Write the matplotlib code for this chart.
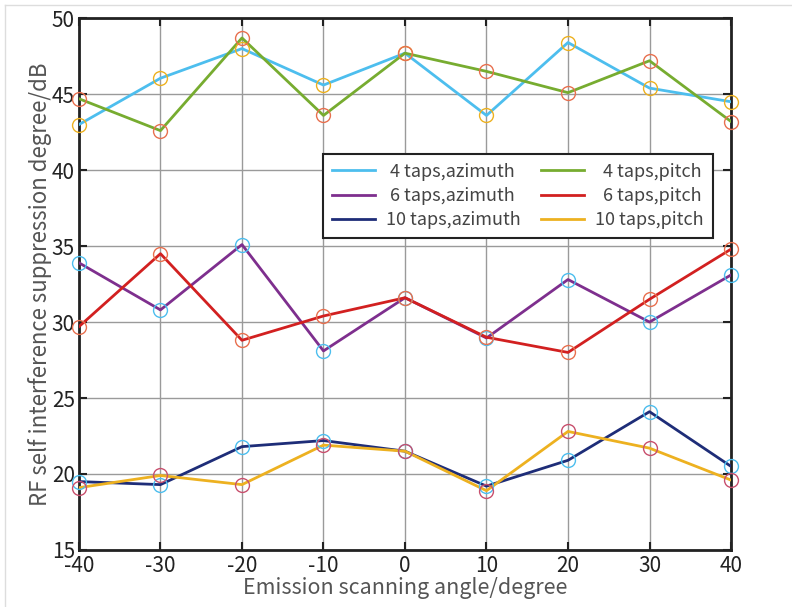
import matplotlib
matplotlib.use('Agg')
import matplotlib.pyplot as plt
from matplotlib.lines import Line2D

plt.rcParams['font.family'] = ['Noto Sans CJK SC', 'DejaVu Sans']
plt.rcParams['axes.unicode_minus'] = False

angles = [-40, -30, -20, -10, 0, 10, 20, 30, 40]

az4 = [43.0, 46.05, 48.0, 45.6, 47.7, 43.6, 48.4, 45.4, 44.5]
pitch4 = [44.7, 42.6, 48.7, 43.6, 47.7, 46.5, 45.1, 47.2, 43.2]
az6 = [33.9, 30.8, 35.1, 28.1, 31.6, 28.95, 32.8, 30.0, 33.1]
pitch6 = [29.7, 34.5, 28.8, 30.4, 31.6, 29.0, 28.0, 31.5, 34.8]
az10 = [19.5, 19.3, 21.8, 22.2, 21.5, 19.2, 20.9, 24.1, 20.5]
pitch10 = [19.1, 19.9, 19.3, 21.9, 21.5, 18.9, 22.8, 21.7, 19.6]

series = [
    (' 4 taps,azimuth', az4, '#4DBEEE', '#EDB120'),
    (' 6 taps,azimuth', az6, '#7E2F8E', '#4DBEEE'),
    ('10 taps,azimuth', az10, '#1E2D78', '#4DBEEE'),
    ('  4 taps,pitch', pitch4, '#77AC30', '#E8704F'),
    ('  6 taps,pitch', pitch6, '#D22020', '#E8704F'),
    ('10 taps,pitch', pitch10, '#EDB120', '#C8506E'),
]

fig = plt.figure(figsize=(7.92, 6.07), dpi=100)
ax = fig.add_axes([0.0997, 0.094, 0.8233, 0.876])

handles = []
for label, vals, lc, mc in series:
    ln, = ax.plot(angles, vals, color=lc, linewidth=2.0, label=label, zorder=3)
    ax.plot(angles, vals, 'o', markerfacecolor='none', markeredgecolor=mc,
            markersize=10, markeredgewidth=1.0, zorder=4, clip_on=False)
    handles.append(ln)

ax.set_xlim(-40, 40)
ax.set_ylim(15, 50)
ax.set_xticks(angles)
ax.set_yticks([15, 20, 25, 30, 35, 40, 45, 50])
ax.grid(True, color='#9a9a9a', linewidth=1.0)
ax.set_axisbelow(True)
for s in ax.spines.values():
    s.set_linewidth(2.0)
    s.set_color('#222222')
ax.tick_params(direction='in', length=6, width=1.5, top=True, right=True,
               labelsize=15, colors='#222222')
ax.tick_params(axis='x', pad=4)
ax.tick_params(axis='y', pad=3)

ax.set_xlabel('Emission scanning angle/degree', fontsize=15.5, color='#555555', labelpad=0)
ax.set_ylabel('RF self interference suppression degree/dB', fontsize=16, color='#555555', labelpad=0)

leg = ax.legend(handles=handles, ncol=2, loc='lower left',
                bbox_to_anchor=(0.374, 0.586, 0.598, 0.175), mode='expand',
                fontsize=13, frameon=True, fancybox=False, handlelength=2.4,
                handletextpad=0.6, borderaxespad=0, labelspacing=0.35,
                columnspacing=1.2, borderpad=0.5)
leg.get_frame().set_edgecolor('#222222')
leg.get_frame().set_linewidth(1.5)
leg.get_frame().set_alpha(1)
for t in leg.get_texts():
    t.set_color('#444444')

fig.add_artist(Line2D([5 / 792, 1], [1 - 5 / 607, 1 - 5 / 607], color='#dddddd', linewidth=1.0))
fig.add_artist(Line2D([5 / 792, 5 / 792], [0, 1 - 5 / 607], color='#dddddd', linewidth=1.0))

fig.savefig('out.png', dpi=100)
